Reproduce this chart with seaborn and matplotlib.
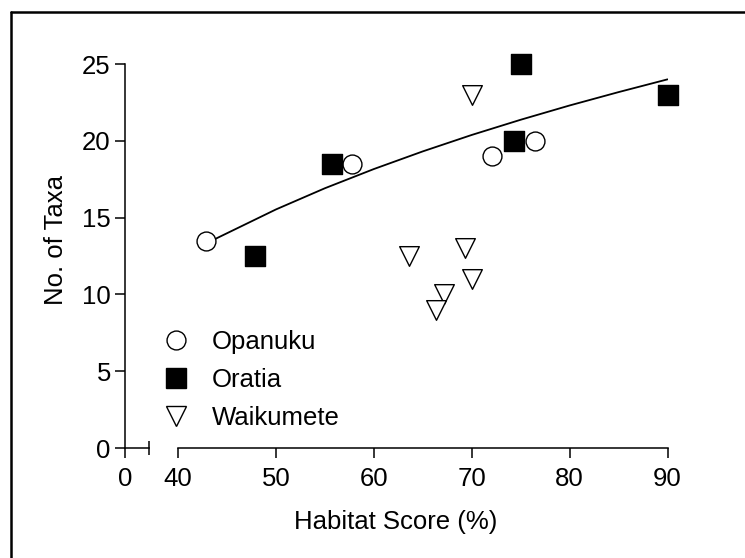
import matplotlib
matplotlib.use("Agg")
import matplotlib.pyplot as plt
import seaborn as sns
from matplotlib.lines import Line2D

# ---- data ----
opanuku_x = [42.9, 57.8, 72.1, 76.5]
opanuku_y = [13.5, 18.5, 19.0, 20.0]
oratia_x = [47.9, 55.7, 74.3, 75.0, 90.0]
oratia_y = [12.5, 18.5, 20.0, 25.0, 23.0]
waikumete_x = [70.0, 63.6, 69.3, 70.0, 67.2, 66.4]
waikumete_y = [23.0, 12.5, 13.0, 11.0, 10.0, 9.0]
# fitted curve
fit_x = [42.9, 50, 55, 60, 65, 70, 75, 80, 85, 90]
fit_y = [13.33, 15.53, 16.91, 18.16, 19.31, 20.38, 21.37, 22.30, 23.17, 24.00]

site_names = ["Opanuku", "Oratia", "Waikumete"]
x_ticks_main = [40, 50, 60, 70, 80, 90]
y_ticks = [0, 5, 10, 15, 20, 25]

sns.set_style("white")
plt.rcParams["font.family"] = ["Liberation Sans", "DejaVu Sans"]
plt.rcParams.update({
    "text.color": "black", "axes.labelcolor": "black",
    "xtick.color": "black", "ytick.color": "black",
    "axes.edgecolor": "black",
    "xtick.bottom": True, "ytick.left": True,
})

W, H = 745, 558
fig = plt.figure(figsize=(W / 100, H / 100), dpi=100)

FS = 18.5
LW = 1.1

# pixel geometry
y0_px, y25_px = 448, 64
x40_px, x90_px = 178, 667.5
xl0_px, xl1_px = 125, 149
px_per_unit = (x90_px - x40_px) / 50.0

def fx(px):
    return px / W

def fy(px):
    return 1 - px / H

ax = fig.add_axes([fx(x40_px), fy(y0_px), (x90_px - x40_px) / W, (y0_px - y25_px) / H])
axl = fig.add_axes([fx(xl0_px), fy(y0_px), (xl1_px - xl0_px) / W, (y0_px - y25_px) / H])
left_max = (xl1_px - xl0_px) / px_per_unit

# fitted curve
sns.lineplot(x=fit_x, y=fit_y, ax=ax, color="black", lw=1.3, sort=False,
             estimator=None, zorder=2)

common = dict(edgecolor="black", linewidth=1.0, clip_on=False, zorder=3, legend=False)
sns.scatterplot(x=opanuku_x, y=opanuku_y, ax=ax, marker="o", s=185, color="white", **common)
sns.scatterplot(x=oratia_x, y=oratia_y, ax=ax, marker="s", s=205, color="black", **common)
sns.scatterplot(x=waikumete_x, y=waikumete_y, ax=ax, marker="v", s=200, color="white", **common)

for a in (ax, axl):
    a.set_ylim(0, 25)
    a.set_facecolor("none")
    for sp in a.spines.values():
        sp.set_linewidth(LW)
        sp.set_color("black")
    a.spines["top"].set_visible(False)
    a.spines["right"].set_visible(False)

ax.set_xlim(40, 90)
ax.spines["left"].set_visible(False)
ax.set_yticks([])
ax.set_xticks(x_ticks_main)
ax.set_xticklabels([str(v) for v in x_ticks_main])
ax.set_xticks([40], minor=True)
ax.tick_params(axis="x", which="major", bottom=True, direction="out", length=7.2, width=LW,
               labelsize=FS, pad=6.5, colors="black")
ax.tick_params(axis="x", which="minor", bottom=True, direction="inout", length=10,
               width=LW * 1.6, colors="black")

axl.set_xlim(0, left_max)
axl.set_xticks([0])
axl.set_xticklabels(["0"])
axl.set_xticks([left_max], minor=True)
axl.set_yticks(y_ticks)
axl.set_yticklabels([str(v) for v in y_ticks])
axl.tick_params(axis="x", which="major", bottom=True, direction="out", length=7.2, width=LW,
                labelsize=FS, pad=6.5, colors="black")
axl.tick_params(axis="y", which="major", left=True, direction="out", length=7.2, width=LW,
                labelsize=FS, pad=3, colors="black")
axl.tick_params(axis="x", which="minor", bottom=True, direction="inout", length=10,
                width=LW, colors="black")
axl.tick_params(axis="y", which="minor", left=False)

fig.text(fx(56), fy(240), "No. of Taxa", rotation=90, ha="center", va="center", fontsize=FS)
fig.text(fx(396), fy(522), "Habitat Score (%)", ha="center", va="center", fontsize=FS)

handles = [
    Line2D([], [], ls="none", marker="o", ms=13.6, mfc="white", mec="black", mew=1.0),
    Line2D([], [], ls="none", marker="s", ms=14.3, mfc="black", mec="black", mew=1.0),
    Line2D([], [], ls="none", marker="v", ms=14.1, mfc="white", mec="black", mew=1.0),
]
fig.legend(handles, site_names, loc="center left",
           bbox_to_anchor=(fx(163), fy(380)), frameon=False, fontsize=FS,
           handlelength=1.0, handletextpad=0.9, labelspacing=0.56,
           borderpad=0, borderaxespad=0)

# figure frame (top and left edges visible)
fig.add_artist(Line2D([fx(11), 1.0], [fy(12), fy(12)], transform=fig.transFigure,
                      color="black", lw=1.8))
fig.add_artist(Line2D([fx(11), fx(11)], [fy(12), 0.0], transform=fig.transFigure,
                      color="black", lw=1.8))

fig.savefig("out.png", dpi=100)
